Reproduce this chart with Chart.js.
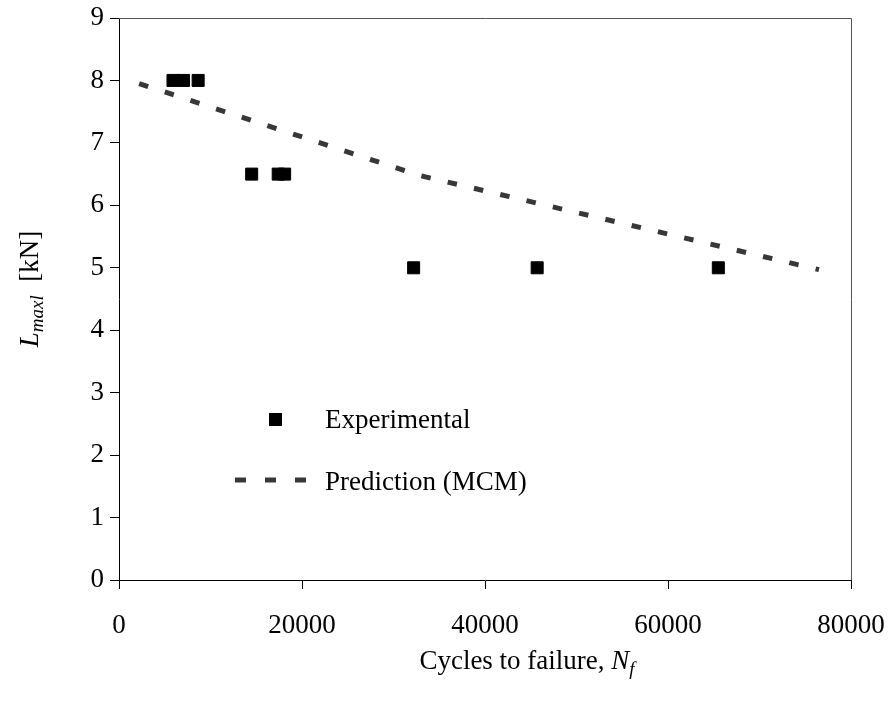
<!DOCTYPE html>
<html>
<head>
<meta charset="utf-8">
<script src="https://cdn.jsdelivr.net/npm/chart.js@4"></script>
<style>
  html, body { margin: 0; padding: 0; background: #fff; }
  #wrap { width: 892px; height: 717px; }
</style>
</head>
<body>
<div id="wrap"><canvas id="chart" width="892" height="717"></canvas></div>
<script>
// fatigue test results: cycles to failure vs max load
let expCycles = [5900, 7050, 8650, 14500, 17400, 18100, 32200, 45700, 65500];
let expLoad = [8, 8, 8, 6.5, 6.5, 6.5, 5, 5, 5];

// MCM prediction curve
let predCycles = [2200, 32800, 76500];
let predLoad = [7.95, 6.48, 4.97];

let xTicks = [0, 20000, 40000, 60000, 80000];
let yTicks = [0, 1, 2, 3, 4, 5, 6, 7, 8, 9];

const SERIF = "'Liberation Serif', 'Times New Roman', serif";

function toPoints(xs, ys) {
    return xs.map((x, i) => ({ x: x, y: ys[i] }));
}

// axis titles with italic/subscript parts, box border and the inset legend
const decorations = {
    id: "decorations",
    afterDraw(chart) {
        let c = chart.ctx;
        let a = chart.chartArea;
        c.save();

        // top + right frame
        c.strokeStyle = "#555";
        c.lineWidth = 1;
        c.beginPath();
        c.moveTo(a.left, a.top + 0.5);
        c.lineTo(a.right + 0.5, a.top + 0.5);
        c.lineTo(a.right + 0.5, a.bottom);
        c.stroke();

        c.fillStyle = "#000";
        c.textBaseline = "alphabetic";

        // y title: L_maxl [kN], rotated
        let parts = [
            { t: "L", f: "italic 27px " + SERIF, dy: 0 },
            { t: "maxl", f: "italic 19px " + SERIF, dy: 5 },
            { t: "  [kN]", f: "27px " + SERIF, dy: 0 }
        ];
        let w = 0;
        parts.forEach(p => { c.font = p.f; w += c.measureText(p.t).width; });
        c.save();
        c.translate(38, 289);
        c.rotate(-Math.PI / 2);
        let px = -w / 2;
        parts.forEach(p => {
            c.font = p.f;
            c.fillText(p.t, px, p.dy);
            px += c.measureText(p.t).width;
        });
        c.restore();

        // x title: Cycles to failure, N_f
        let xparts = [
            { t: "Cycles to failure, ", f: "27px " + SERIF, dy: 0 },
            { t: "N", f: "italic 27px " + SERIF, dy: 0 },
            { t: "f", f: "italic 19px " + SERIF, dy: 6 }
        ];
        w = 0;
        xparts.forEach(p => { c.font = p.f; w += c.measureText(p.t).width; });
        px = 527 - w / 2;
        xparts.forEach(p => {
            c.font = p.f;
            c.fillText(p.t, px, 669 + p.dy);
            px += c.measureText(p.t).width;
        });

        // legend
        let ds = chart.data.datasets;
        c.font = "27px " + SERIF;
        c.textBaseline = "middle";
        c.fillStyle = ds[0].backgroundColor;
        c.fillRect(269, 413, 13, 13);
        c.fillStyle = "#000";
        c.fillText(ds[0].label, 325, 421);

        c.strokeStyle = ds[1].borderColor;
        c.lineWidth = ds[1].borderWidth;
        c.setLineDash([11, 19]);
        c.beginPath();
        c.moveTo(235, 480);
        c.lineTo(310, 480);
        c.stroke();
        c.setLineDash([]);
        c.fillText(ds[1].label, 325, 483);

        c.restore();
    }
};

let ctx = document.getElementById("chart").getContext("2d");

let chart = new Chart(ctx, {
    type: "scatter",
    data: {
        datasets: [
            {
                label: "Experimental",
                data: toPoints(expCycles, expLoad),
                pointStyle: "rect",
                pointRadius: 8.5,
                pointHoverRadius: 8.5,
                backgroundColor: "#000",
                borderColor: "#000",
                borderWidth: 1,
                showLine: false,
            },
            {
                label: "Prediction (MCM)",
                data: toPoints(predCycles, predLoad),
                showLine: true,
                pointRadius: 0,
                borderColor: "#383838",
                borderWidth: 5,
                borderDash: [9.5, 17.5],
                borderCapStyle: "butt",
                tension: 0,
            }
        ]
    },
    options: {
        responsive: false,
        animation: false,
        layout: { padding: { left: 0, top: 18, right: 41, bottom: 0 } },
        plugins: {
            legend: { display: false },
            tooltip: { enabled: false },
        },
        scales: {
            x: {
                type: "linear",
                min: 0,
                max: 80000,
                afterBuildTicks: (s) => { s.ticks = xTicks.map(v => ({ value: v })); },
                afterFit: (s) => {
                    s.height = 137;
                    s.paddingLeft = 0;
                    s.paddingRight = 0;
                },
                grid: { drawOnChartArea: false, tickLength: 9, color: "#000" },
                border: { display: true, color: "#000", width: 1 },
                ticks: {
                    color: "#000",
                    font: { family: SERIF, size: 27 },
                    padding: 21,
                    maxRotation: 0,
                    callback: (v) => String(v),
                },
            },
            y: {
                type: "linear",
                min: 0,
                max: 9,
                afterBuildTicks: (s) => { s.ticks = yTicks.map(v => ({ value: v })); },
                afterFit: (s) => {
                    s.width = 119;
                    s.paddingTop = 0;
                    s.paddingBottom = 0;
                },
                grid: { drawOnChartArea: false, tickLength: 9, color: "#000" },
                border: { display: true, color: "#000", width: 1 },
                ticks: {
                    color: "#000",
                    font: { family: SERIF, size: 27 },
                    padding: 6,
                    callback: (v) => String(v),
                },
            }
        }
    },
    plugins: [decorations]
});
</script>
</body>
</html>
